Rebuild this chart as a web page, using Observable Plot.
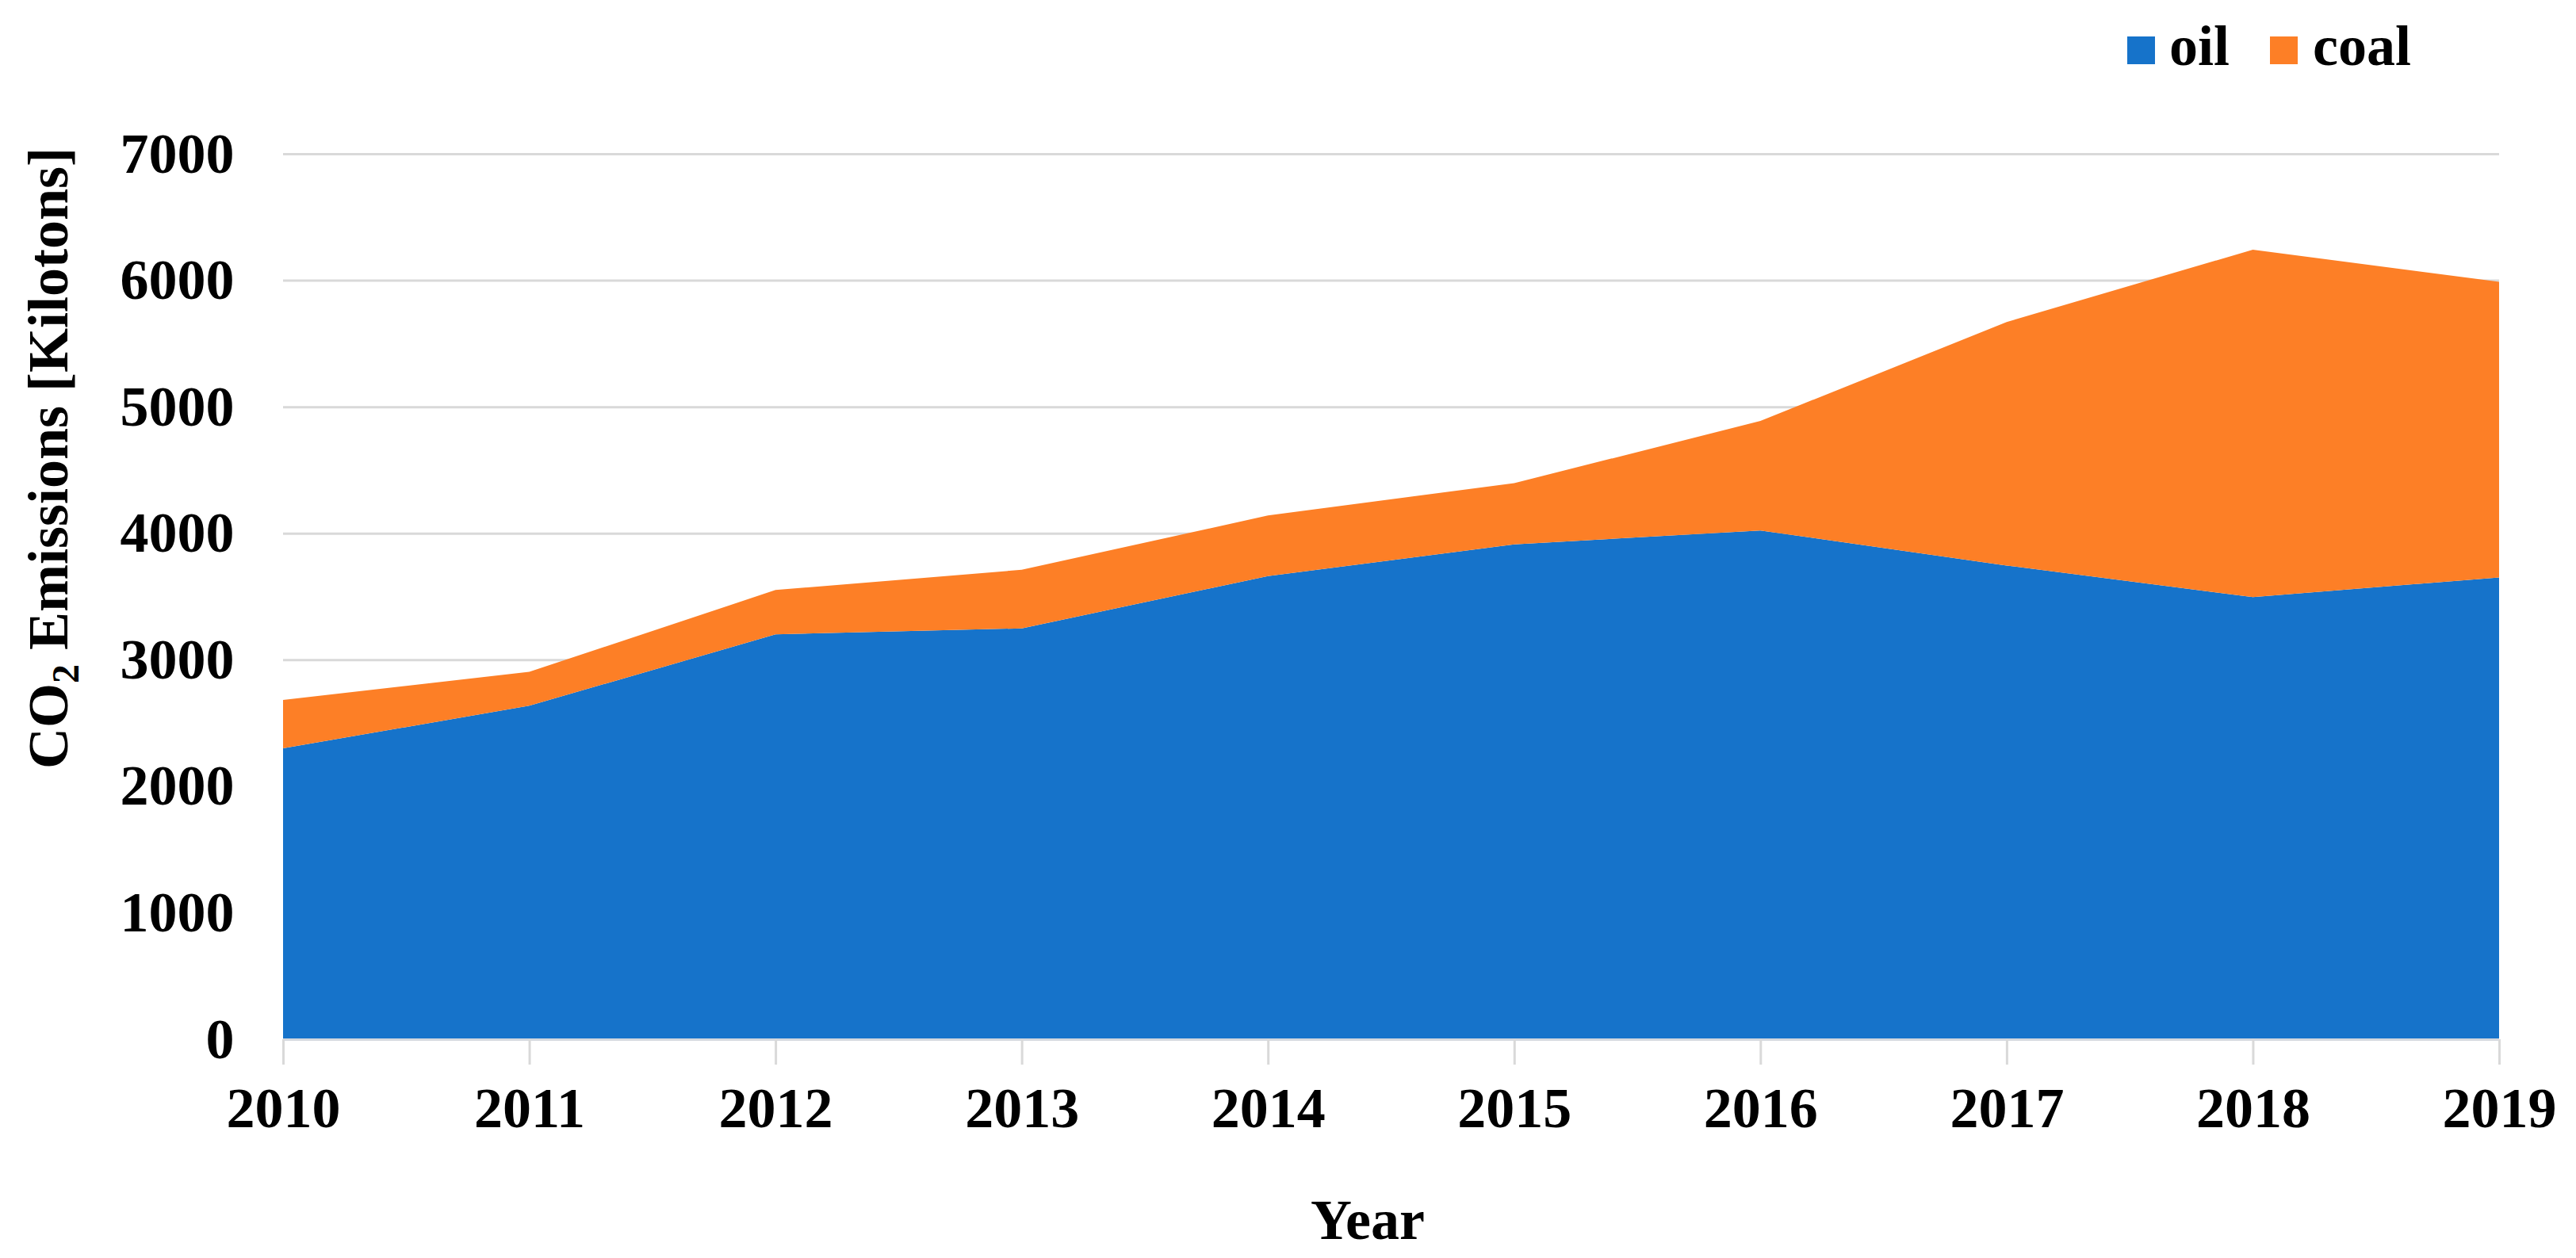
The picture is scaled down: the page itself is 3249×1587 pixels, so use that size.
<!DOCTYPE html>
<html>
<head>
<meta charset="utf-8">
<script src="https://cdn.jsdelivr.net/npm/d3@7"></script>
<script src="https://cdn.jsdelivr.net/npm/@observablehq/plot@0.6"></script>
<style>
  html, body { margin: 0; padding: 0; background: #fff; }
  #wrap { position: relative; width: 3249px; height: 1587px; font-family: "Liberation Serif", "Times New Roman", serif; font-weight: bold; }
  #legend { position: absolute; top: 0; left: 0; width: 3249px; height: 130px; }
  .sw { position: absolute; width: 35px; height: 35px; top: 46px; }
  .lt { position: absolute; font-size: 72px; line-height: 1; top: 22px; color: #000; }
  #chart { position: absolute; top: 0; left: 0; }
</style>
</head>
<body>
<div id="wrap">
  <div id="chart"></div>
  <div id="legend"></div>
</div>
<script>
const years = [2010, 2011, 2012, 2013, 2014, 2015, 2016, 2017, 2018, 2019];
const oil   = [2300, 2636, 3201, 3248, 3662, 3912, 4022, 3745, 3495, 3651];
const coal  = [382, 268, 350, 463, 478, 484, 866, 1925, 2747, 2337];
const series = ["oil", "coal"];
const colors = ["#1673CA", "#FD7F26"];
const yTicks = [0, 1000, 2000, 3000, 4000, 5000, 6000, 7000];

const rows = [];
series.forEach((s, si) => {
  const vals = si === 0 ? oil : coal;
  years.forEach((yr, i) => rows.push({year: yr, value: vals[i], fuel: s}));
});

const plot = Plot.plot({
  width: 3249,
  height: 1587,
  marginLeft: 357,
  marginRight: 97,
  marginTop: 194,
  marginBottom: 276,
  style: {fontFamily: "'Liberation Serif', 'Times New Roman', serif", fontWeight: "bold", fontSize: "72px", background: "#fff", color: "#000"},
  x: {type: "linear", domain: [2010, 2019]},
  y: {domain: [0, 7000]},
  color: {domain: series, range: colors},
  marks: [
    Plot.gridY(yTicks, {stroke: "#D9D9D9", strokeOpacity: 1, strokeWidth: 3}),
    Plot.areaY(rows, {x: "year", y: "value", z: "fuel", fill: "fuel", order: series}),
    Plot.ruleY([0], {stroke: "#D4D8DE", strokeWidth: 3}),
    Plot.axisY(yTicks, {tickSize: 0, tickPadding: 62, label: null, fontSize: 72, fill: "#000", tickFormat: d => String(d)}),
    Plot.axisX(years, {tickSize: 32, tickPadding: 27, stroke: "#D9D9D9", strokeWidth: 3, fill: "#000", label: null, fontSize: 72, tickFormat: d => String(d)})
  ]
});
document.getElementById("chart").appendChild(plot);

const svg = d3.select(plot);
// Y axis title with subscript
const yt = svg.append("text")
  .attr("transform", "translate(85,578) rotate(-90)")
  .attr("text-anchor", "middle")
  .attr("font-size", 72)
  .attr("font-weight", "bold")
  .attr("fill", "#000");
yt.append("tspan").text("CO");
yt.append("tspan").attr("font-size", 48).attr("dy", "0.3em").text("2");
yt.append("tspan").attr("dy", "-0.2em").text(" Emissions [Kilotons]");

// X axis title
svg.append("text")
  .attr("x", 1725)
  .attr("y", 1563)
  .attr("text-anchor", "middle")
  .attr("font-size", 72)
  .attr("font-weight", "bold")
  .attr("fill", "#000")
  .text("Year");

// Legend (HTML)
const legend = document.getElementById("legend");
const legendPos = [{sw: 2683, tx: 2736}, {sw: 2863, tx: 2917}];
series.forEach((s, i) => {
  const sw = document.createElement("div");
  sw.className = "sw";
  sw.style.left = legendPos[i].sw + "px";
  sw.style.background = colors[i];
  legend.appendChild(sw);
  const t = document.createElement("div");
  t.className = "lt";
  t.style.left = legendPos[i].tx + "px";
  t.textContent = s;
  legend.appendChild(t);
});
</script>
</body>
</html>
